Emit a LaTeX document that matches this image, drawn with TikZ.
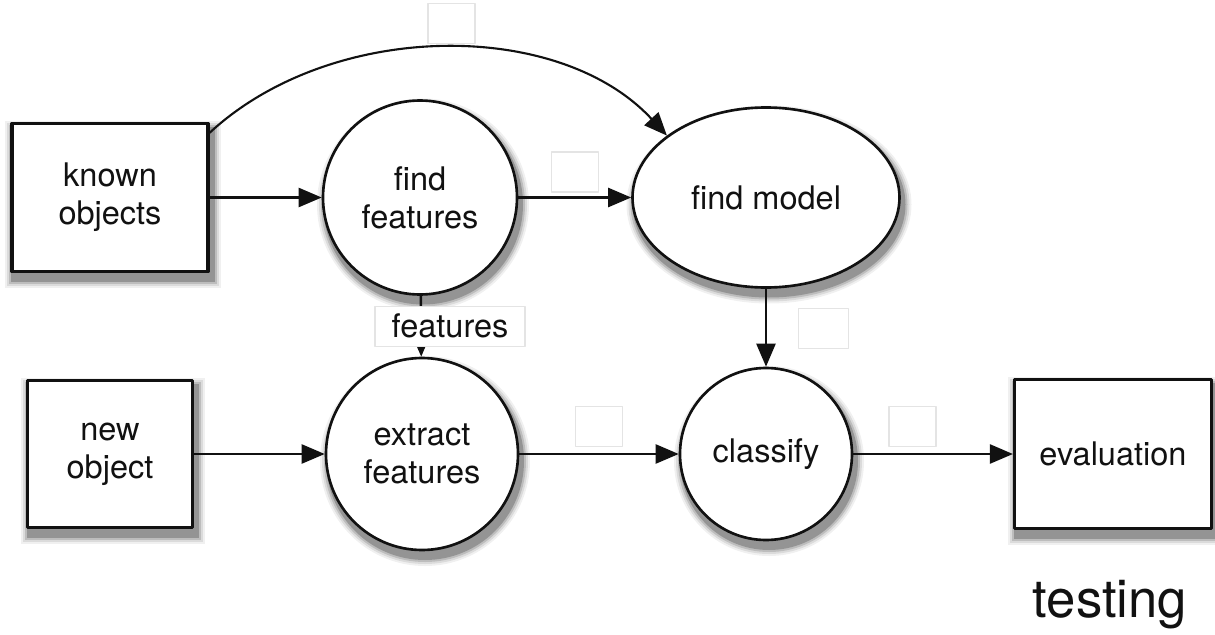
\documentclass[tikz,border=0pt]{standalone}
\usepackage{fontspec}
\setmainfont{TeX Gyre Heros}
\usetikzlibrary{arrows.meta,shapes.geometric,backgrounds}
\definecolor{flInk}{HTML}{111111}
\definecolor{flFaint}{HTML}{E4E4E4}
\tikzset{
  fl diagram/.style={font=\fontsize{18.5}{21.5}\selectfont, text=flInk,
    line join=round},
  fl box/.style={draw=flInk, fill=white, line width=1.8pt, align=center,
    inner sep=2pt},
  fl step/.style={fl box, circle, line width=1.5pt, inner sep=0pt},
  fl oval/.style={fl box, ellipse, line width=1.5pt, inner sep=0pt},
  fl arrow/.style={-{Triangle[length=4.6mm,width=3.8mm]}, draw=flInk,
    line width=1.4pt},
  fl tag/.style={draw=flFaint, fill=white, line width=0.8pt, inner sep=2pt,
    minimum width=3cm, minimum height=0.8cm},
  fl blank/.style={draw=flFaint, fill=white, line width=0.8pt, inner sep=0pt,
    minimum width=0.94cm, minimum height=0.8cm},
  fl title/.style={font=\fontsize{30}{36}\selectfont}
}

\begin{document}
\begin{tikzpicture}[fl diagram]
\useasboundingbox (0,0) rectangle (24.3,-12.7);
% training row
\node[fl box, minimum width=3.92cm, minimum height=2.96cm] (known) at (2.2,-3.95) {known\\objects};
\node[fl step, minimum size=3.88cm] (feat) at (8.4,-3.95) {find\\features};
\node[fl oval, minimum width=5.34cm, minimum height=3.6cm] (model) at (15.32,-3.95) {find model};
% testing row
\node[fl box, minimum width=3.3cm, minimum height=2.94cm] (newobj) at (2.2,-9.08) {new\\object};
\node[fl step, minimum size=3.84cm] (extract) at (8.44,-9.08) {extract\\features};
\node[fl step, minimum size=3.44cm] (classify) at (15.32,-9.08) {classify};
\node[fl box, minimum width=3.94cm, minimum height=2.98cm] (eval) at (22.26,-9.08) {evaluation};
\node[fl title] (testing) at (22.2,-12.1) {testing};
% soft shadows
\begin{scope}[on background layer]
\foreach \g/\d in {6/0.16,14/0.12,26/0.08,42/0.04}{
  \foreach \n in {known,newobj,eval}
    \fill[black!\g] ([shift={(0.06-\d,-0.14-\d)}]\n.south west) rectangle ([shift={(0.06+\d,-0.14+\d)}]\n.north east);
  \fill[black!\g] ([shift={(0.06,-0.14)}]feat.center) circle [radius=1.96+\d];
  \fill[black!\g] ([shift={(0.06,-0.14)}]extract.center) circle [radius=1.94+\d];
  \fill[black!\g] ([shift={(0.06,-0.14)}]classify.center) circle [radius=1.74+\d];
  \fill[black!\g] ([shift={(0.06,-0.14)}]model.center) ellipse [x radius=2.69+\d, y radius=1.82+\d];
}
\end{scope}
% connectors
\draw[fl arrow, line width=1.2pt] (known.33) .. controls +(2.44,2.26) and +(-2.16,2.34) .. node[fl blank, pos=0.5, anchor=south, xshift=0.16cm, yshift=0.08cm] (tagkm) {} (model.148);
\draw[fl arrow] (known) -- (feat);
\draw[fl arrow] (feat) -- node[fl blank, midway, anchor=south, yshift=0.1cm] (tagfm) {} (model);
\draw[fl arrow] (feat) -- node[fl tag, midway, xshift=0.58cm] (tagfe) {features} (extract);
\draw[fl arrow] (model) -- node[fl blank, pos=0.51, anchor=west, minimum width=1cm, xshift=0.64cm] (tagmc) {} (classify);
\draw[fl arrow] (newobj) -- (extract);
\draw[fl arrow] (extract) -- node[fl blank, midway, anchor=south, yshift=0.14cm] (tagec) {} (classify);
\draw[fl arrow] (classify) -- node[fl blank, pos=0.37, anchor=south, yshift=0.14cm] (tagcv) {} (eval);
\end{tikzpicture}
\end{document}
